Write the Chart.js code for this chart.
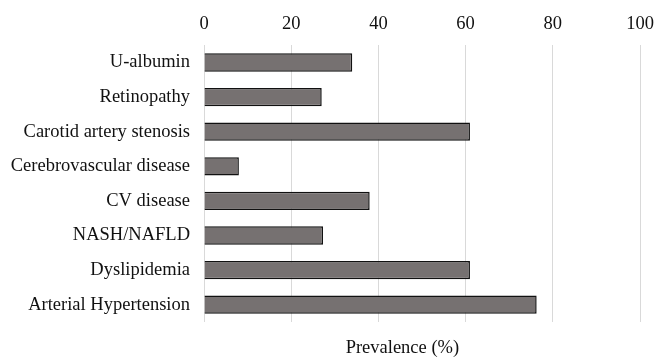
<!DOCTYPE html>
<html>
<head>
<meta charset="utf-8">
<script src="https://cdn.jsdelivr.net/npm/chart.js@4.4.1/dist/chart.umd.min.js"></script>
<style>
  html, body { margin: 0; padding: 0; background: #fff; }
  #wrap { width: 656px; height: 358px; }
</style>
</head>
<body>
<div id="wrap"><canvas id="grafico"></canvas></div>
<script>
// Dados do gráfico
const categorias = [
    "U-albumin",
    "Retinopathy",
    "Carotid artery stenosis",
    "Cerebrovascular disease",
    "CV disease",
    "NASH/NAFLD",
    "Dyslipidemia",
    "Arterial Hypertension"
];
const prevalencia = [34, 27, 61, 8, 38, 27.3, 61, 76.3];
const tituloEixo = "Prevalence (%)";

const fonte = "'Liberation Serif', 'Times New Roman', serif";

// Título do eixo embaixo (o eixo x fica em cima, então desenhamos à parte)
const tituloEmbaixo = {
    id: "tituloEmbaixo",
    afterDraw(chart) {
        const c = chart.ctx;
        const escalaX = chart.scales.x;
        c.save();
        c.font = "18.5px " + fonte;
        c.fillStyle = "#111";
        c.textAlign = "center";
        c.textBaseline = "middle";
        c.fillText(tituloEixo, escalaX.getPixelForValue(45.5), chart.chartArea.bottom + 26);
        c.restore();
    }
};

const ctx = document.getElementById("grafico").getContext("2d");

new Chart(ctx, {
    type: "bar",
    data: {
        labels: categorias,
        datasets: [{
            data: prevalencia,
            backgroundColor: "#767171",
            borderColor: "#111",
            borderWidth: 1.5,
            borderSkipped: "start",
            barPercentage: 0.53,
            categoryPercentage: 1.0
        }]
    },
    options: {
        indexAxis: "y",
        responsive: true,
        maintainAspectRatio: false,
        animation: false,
        layout: { padding: { top: 3, right: 16, bottom: 36, left: 4 } },
        plugins: {
            legend: { display: false },
            tooltip: { enabled: false }
        },
        scales: {
            x: {
                position: "top",
                min: 0,
                max: 100,
                ticks: {
                    stepSize: 20,
                    color: "#111",
                    padding: 10,
                    font: { family: fonte, size: 18.5 }
                },
                grid: {
                    color: "#d9d9d9",
                    lineWidth: 1,
                    drawTicks: false
                },
                border: { display: false },
                afterFit: (scale) => { scale.paddingLeft = 0; scale.paddingRight = 0; }
            },
            y: {
                ticks: {
                    color: "#111",
                    padding: 14,
                    font: { family: fonte, size: 18.5 }
                },
                grid: { display: false, drawTicks: false },
                border: { display: false },
                afterFit: (scale) => { scale.width = 200; }
            }
        }
    },
    plugins: [tituloEmbaixo]
});
</script>
</body>
</html>
